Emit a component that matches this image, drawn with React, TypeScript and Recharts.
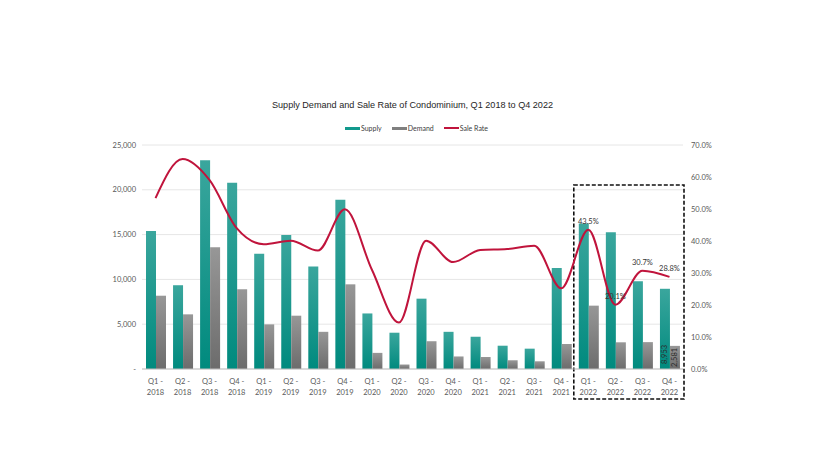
import React from "react";
import {
  ComposedChart,
  Bar,
  Line,
  XAxis,
  YAxis,
  CartesianGrid,
  LabelList,
  ReferenceArea,
} from "recharts";

const categories = [
  "Q1 - 2018", "Q2 - 2018", "Q3 - 2018", "Q4 - 2018",
  "Q1 - 2019", "Q2 - 2019", "Q3 - 2019", "Q4 - 2019",
  "Q1 - 2020", "Q2 - 2020", "Q3 - 2020", "Q4 - 2020",
  "Q1 - 2021", "Q2 - 2021", "Q3 - 2021", "Q4 - 2021",
  "Q1 - 2022", "Q2 - 2022", "Q3 - 2022", "Q4 - 2022",
];

const supply = [
  15400, 9350, 23300, 20800, 12850, 14950, 11450, 18900, 6200, 4050,
  7850, 4150, 3600, 2600, 2270, 11270, 16250, 15250, 9790, 8953,
];

const demand = [
  8180, 6100, 13580, 8900, 4980, 5950, 4150, 9450, 1800, 500,
  3100, 1400, 1340, 970, 860, 2790, 7070, 2980, 3000, 2581,
];

const saleRate = [
  53.4, 65.6, 59.0, 44.0, 39.0, 40.1, 37.0, 49.9, 31.0, 14.5,
  40.1, 33.4, 37.2, 37.5, 38.5, 25.2, 43.5, 20.1, 30.7, 28.8,
];

const leftTicks = [0, 5000, 10000, 15000, 20000, 25000];
const rightTicks = [0, 10, 20, 30, 40, 50, 60, 70];

const labelledRateFrom = 16;
const labelledBarIndex = 19;
const highlightStart = "Q1 - 2022";
const highlightEnd = "Q4 - 2022";
const highlightTop = 57.5;

const data = categories.map((q, i) => ({
  quarter: q,
  supply: supply[i],
  demand: demand[i],
  saleRate: saleRate[i],
  rateLabel: i >= labelledRateFrom ? saleRate[i] : undefined,
  supplyLabel: i === labelledBarIndex ? supply[i] : undefined,
  demandLabel: i === labelledBarIndex ? demand[i] : undefined,
}));

const TICK_FONT = "Lato, 'Open Sans', sans-serif";
const TICK_COLOR = "#595959";

const XTick = (props: any) => {
  const { x, y, payload } = props;
  const parts = String(payload.value).split(" - ");
  return (
    <g transform={`translate(${x},${y})`}>
      <text
        textAnchor="middle"
        fontFamily={TICK_FONT}
        fontSize={7.5}
        fill={TICK_COLOR}
      >
        <tspan x={0} dy={7}>{parts[0] + " -"}</tspan>
        <tspan x={0} dy={11}>{parts[1]}</tspan>
      </text>
    </g>
  );
};

const fmtLeft = (v: number) => (v === 0 ? "-" : v.toLocaleString("en-US"));
const fmtRight = (v: number) => `${v.toFixed(1)}%`;

const RotatedBarLabel = (offset: number) => (props: any) => {
  const { x, y, width, height, value } = props;
  if (value === undefined || value === null) return null;
  const cx = Number(x) + Number(width) / 2;
  const by = Number(y) + Number(height) - offset;
  return (
    <text
      x={cx}
      y={by}
      transform={`rotate(-90, ${cx}, ${by})`}
      textAnchor="start"
      dominantBaseline="central"
      fontFamily={TICK_FONT}
      fontSize={7.5}
      fill="#2b2b2b"
    >
      {Number(value).toLocaleString("en-US")}
    </text>
  );
};

const DashedBox = (props: any) => {
  const { x, y, width, height } = props;
  return (
    <rect
      x={x - 1}
      y={y}
      width={width + 2}
      height={height + 30}
      fill="none"
      stroke="#111"
      strokeWidth={1.6}
      strokeDasharray="4 2"
    />
  );
};

const LegendItem = ({ color, label, line }: { color: string; label: string; line?: boolean }) => (
  <span style={{ display: "inline-flex", alignItems: "center", margin: "0 5px" }}>
    <span
      style={{
        display: "inline-block",
        width: 15,
        height: line ? 2 : 3,
        background: color,
        marginRight: 1,
      }}
    />
    <span>{label}</span>
  </span>
);

export default function App() {
  return (
    <div style={{ position: "absolute", left: 0, top: 0, width: 825, height: 464, background: "#fff" }}>
      <div
        style={{
          position: "absolute",
          left: 0,
          top: 99,
          width: 825,
          textAlign: "center",
          fontFamily: "'Liberation Sans', Arial, sans-serif",
          fontSize: 9.1,
          color: "#262626",
          lineHeight: "12px",
        }}
      >
        Supply Demand and Sale Rate of Condominium, Q1 2018 to Q4 2022
      </div>
      <div
        style={{
          position: "absolute",
          left: 4,
          top: 123,
          width: 825,
          display: "flex",
          justifyContent: "center",
          fontFamily: TICK_FONT,
          fontSize: 7,
          color: "#404040",
          lineHeight: "10px",
        }}
      >
        <LegendItem color="#12998d" label="Supply" />
        <LegendItem color="#7f7f7f" label="Demand" />
        <LegendItem color="#c0143c" label="Sale Rate" line />
      </div>
      <div style={{ position: "absolute", left: 0, top: 0 }}>
        <ComposedChart
          width={825}
          height={464}
          data={data}
          margin={{ top: 145, right: 102, bottom: 65, left: 102 }}
          barGap={0}
        >
          <defs>
            <linearGradient id="supplyGrad" x1="0" y1="0" x2="0" y2="1">
              <stop offset="0%" stopColor="#3aa69d" />
              <stop offset="100%" stopColor="#008a7e" />
            </linearGradient>
            <linearGradient id="demandGrad" x1="0" y1="0" x2="0" y2="1">
              <stop offset="0%" stopColor="#979797" />
              <stop offset="100%" stopColor="#6c6c6c" />
            </linearGradient>
          </defs>
          <CartesianGrid yAxisId="left" vertical={false} stroke="#e6e6e6" strokeWidth={1} />
          <XAxis
            dataKey="quarter"
            height={30}
            interval={0}
            tickLine={false}
            axisLine={{ stroke: "#bfbfbf" }}
            tick={<XTick />}
          />
          <YAxis
            yAxisId="left"
            width={40}
            domain={[0, 25000]}
            ticks={leftTicks}
            tickFormatter={fmtLeft}
            axisLine={false}
            tickLine={false}
            tickMargin={0}
            tick={{ fontFamily: TICK_FONT, fontSize: 7.5, fill: TICK_COLOR }}
          />
          <YAxis
            yAxisId="right"
            orientation="right"
            width={40}
            domain={[0, 70]}
            ticks={rightTicks}
            tickFormatter={fmtRight}
            axisLine={false}
            tickLine={false}
            tick={{ fontFamily: TICK_FONT, fontSize: 7.5, fill: TICK_COLOR, textAnchor: "start" }}
          />
          <Bar yAxisId="left" dataKey="supply" barSize={10} fill="url(#supplyGrad)" isAnimationActive={false}>
            <LabelList dataKey="supplyLabel" content={RotatedBarLabel(5)} />
          </Bar>
          <Bar yAxisId="left" dataKey="demand" barSize={10} fill="url(#demandGrad)" isAnimationActive={false}>
            <LabelList dataKey="demandLabel" content={RotatedBarLabel(2)} />
          </Bar>
          <Line
            yAxisId="right"
            dataKey="saleRate"
            type="monotone"
            stroke="#c0143c"
            strokeWidth={2}
            dot={false}
            activeDot={false}
            isAnimationActive={false}
          >
            <LabelList
              dataKey="rateLabel"
              position="top"
              offset={6}
              formatter={(v: any) => (v === undefined || v === null ? "" : `${Number(v).toFixed(1)}%`)}
              style={{ fontFamily: TICK_FONT, fontSize: 7.5, fill: "#333" }}
            />
          </Line>
          <ReferenceArea
            yAxisId="right"
            x1={highlightStart}
            x2={highlightEnd}
            y1={0}
            y2={highlightTop}
            ifOverflow="visible"
            shape={<DashedBox />}
          />
        </ComposedChart>
      </div>
    </div>
  );
}
